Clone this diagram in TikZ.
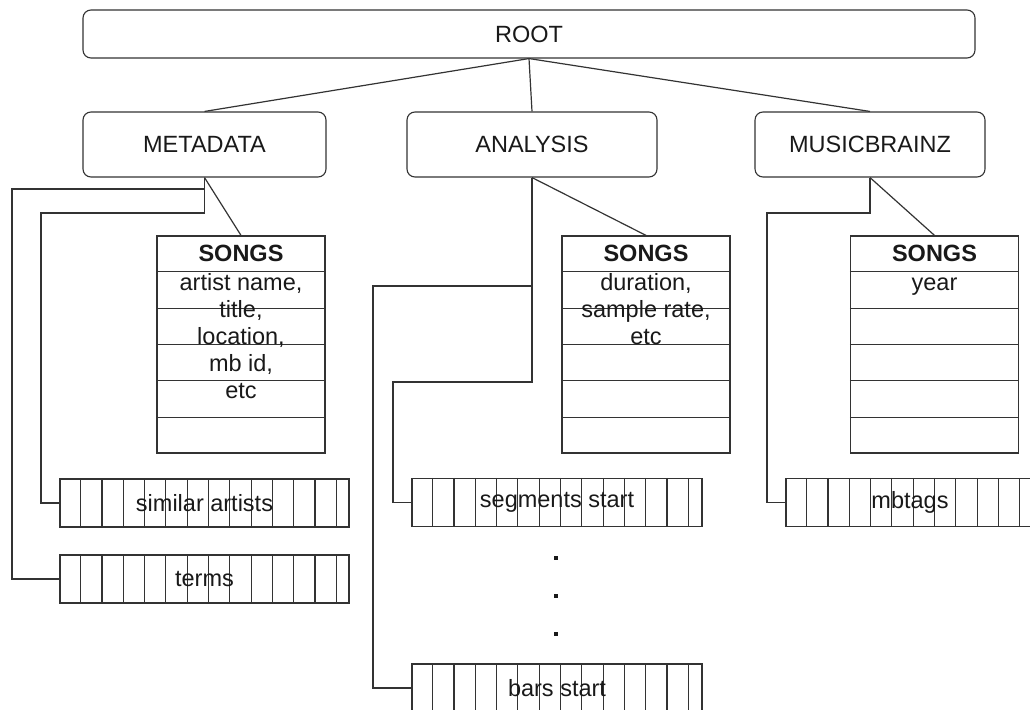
\documentclass[tikz,border=0pt]{standalone}
\usepackage{fontspec}
\setmainfont{Liberation Sans}
\usetikzlibrary{calc}
\begin{document}
\begin{tikzpicture}[x=1pt,y=-1pt,
  every node/.style={font=\fontsize{23.5}{27}\selectfont, inner sep=0pt, text=black!90},
  cat/.style={draw=black!80, line width=1.1pt, rounded corners=8pt},
  link/.style={draw=black!80, line width=1.2pt},
  tbl/.style={draw=black!80, line width=1.2pt, minimum width=168pt, minimum height=217pt},
  strip/.style={draw=black!80, line width=1.2pt, minimum height=48pt},
  cellline/.style={draw=black!80, line width=1.1pt},
  head/.style={font=\fontsize{23.5}{27}\selectfont\bfseries},
  body/.style={align=center, anchor=north}]
\useasboundingbox (0,0) rectangle (1030,709);

% top level
\node[cat, minimum width=892pt, minimum height=48pt] (root) at (529,34) {ROOT};
\node[cat, minimum width=243pt, minimum height=65pt] (meta) at (204.5,144.5) {METADATA};
\node[cat, minimum width=250pt, minimum height=65pt] (ana) at (532,144.5) {ANALYSIS};
\node[cat, minimum width=230pt, minimum height=65pt] (mb) at (870,144.5) {MUSICBRAINZ};
\draw[link] (root.south) -- (meta.north);
\draw[link] (root.south) -- (ana.north);
\draw[link] (root.south) -- (mb.north);

% SONGS tables
\node[tbl] (mtab) at (241,344.5) {};
\node[tbl] (atab) at (646,344.5) {};
\node[tbl] (btab) at (934.5,344.5) {};
\foreach \t in {mtab,atab,btab}{
  \foreach \i in {1,...,5}{
    \draw[cellline] ($(\t.north west)!\i/6!(\t.south west)$) -- ($(\t.north east)!\i/6!(\t.south east)$);
  }
}
\node[head] (mhead) at ($(mtab.north)!1/12!(mtab.south)$) {SONGS};
\node[head] (ahead) at ($(atab.north)!1/12!(atab.south)$) {SONGS};
\node[head] (bhead) at ($(btab.north)!1/12!(btab.south)$) {SONGS};
\node[body] (mbody) at (241,271) {\strut artist name,\\ title,\\ location,\\ mb id,\\ etc};
\node[body] (abody) at (646,271) {\strut duration,\\ sample rate,\\ etc};
\node[body] (bbody) at (934.5,271) {\strut year};

% strips
\node[strip, minimum width=289pt] (sim) at (204.5,503) {};
\node[strip, minimum width=289pt] (terms) at (204.5,579) {};
\node[strip, minimum width=290pt] (seg) at (557,502.5) {};
\node[strip, minimum width=290pt] (bars) at (557,688) {};
\node[strip, minimum width=248pt] (mbt) at (910,502.5) {};
\foreach \s in {sim,terms,seg,bars,mbt}{
  \foreach \k in {1,...,13}{
    \draw[cellline] ($(\s.north west)+(21.3*\k,0)$) -- ($(\s.south west)+(21.3*\k,0)$);
  }
}
\node (simt) at (sim.center) {similar artists};
\node (termst) at (terms.center) {terms};
\node (segt) at (seg.center) {segments start};
\node (barst) at (bars.center) {bars start};
\node (mbtt) at (mbt.center) {mbtags};

% dots
\foreach \y in {558,596,634}{
  \fill[black!90] (554,\y-2) rectangle (558,\y+2);
}

% connectors
\draw[link] (meta.south) -- (mtab.north);
\draw[link] (meta.south) |- (12,189) |- (terms.west);
\draw[link] (meta.south) |- (41,213) |- (sim.west);
\draw[link] (ana.south) -- (atab.north);
\draw[link] (ana.south) |- (373,286) |- (bars.west);
\draw[link] (ana.south) |- (393,382) |- (seg.west);
\draw[link] (mb.south) -- (btab.north);
\draw[link] (mb.south) |- (767,213) |- (mbt.west);
\end{tikzpicture}
\end{document}
